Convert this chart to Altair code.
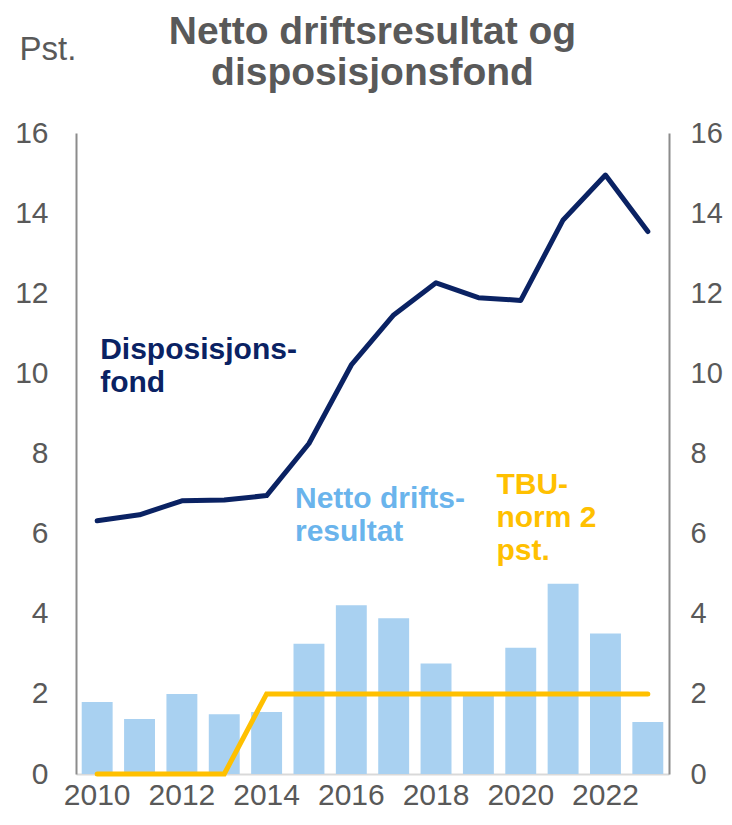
import altair as alt
import pandas as pd

years = list(range(2010, 2024))
netto = [1.80, 1.37, 2.00, 1.49, 1.55, 3.25, 4.21, 3.89, 2.76, 1.99, 3.15, 4.75, 3.51, 1.30]
disp = [6.32, 6.47, 6.82, 6.84, 6.95, 8.25, 10.21, 11.46, 12.26, 11.89, 11.82, 13.83, 14.95, 13.54]
tbu = [0, 0, 0, 0, 2, 2, 2, 2, 2, 2, 2, 2, 2, 2]
x_ticks = [2010, 2012, 2014, 2016, 2018, 2020, 2022]
y_ticks = [0, 2, 4, 6, 8, 10, 12, 14, 16]

ann_text = ["Disposisjons-\nfond", "Netto drifts-\nresultat", "TBU-\nnorm 2\npst."]
ann_year = [2010, 2015, 2019]
ann_y = [10.36, 6.64, 6.99]

df = pd.DataFrame({"year": years, "netto": netto, "disp": disp, "tbu": tbu})

FONT = "Liberation Sans"
GRAY = "#595959"
NAVY = "#0A2263"
LBLUE = "#A9D1F1"
LBLUE_T = "#6AB4EC"
YELLOW = "#FFC000"

xscale = alt.Scale(paddingInner=0.27, paddingOuter=0.135)
yscale = alt.Scale(domain=[0, 16])

x_enc = alt.X(
    "year:O",
    scale=xscale,
    axis=alt.Axis(
        values=x_ticks, labelAngle=0, labelFontSize=30, labelColor=GRAY,
        labelFont=FONT, labelPadding=6, ticks=False, domainColor="#D9D9D9",
        domainWidth=2, title=None, grid=False,
    ),
)

bars = alt.Chart(df).mark_bar(color=LBLUE).encode(
    x=x_enc,
    y=alt.Y(
        "netto:Q", scale=yscale,
        axis=alt.Axis(
            orient="left", values=y_ticks, labelFontSize=30, labelColor=GRAY,
            labelFont=FONT, labelPadding=28, ticks=False, grid=False,
            domainColor="#8C8C8C", domainWidth=2,
            title="Pst.", titleAngle=0, titleX=-57, titleY=-74,
            titleAlign="left", titleBaseline="alphabetic", titleFontSize=33,
            titleFontWeight="normal", titleColor=GRAY, titleFont=FONT,
        ),
    ),
)

tbu_line = alt.Chart(df).mark_line(color=YELLOW, strokeWidth=5, strokeCap="round").encode(
    x=x_enc,
    y=alt.Y(
        "tbu:Q", scale=yscale,
        axis=alt.Axis(
            orient="right", values=y_ticks, labelFontSize=29, labelColor=GRAY,
            labelFont=FONT, labelPadding=21, ticks=False, grid=False,
            domainColor="#8C8C8C", domainWidth=2, title=None,
        ),
    ),
)

disp_line = alt.Chart(df).mark_line(color=NAVY, strokeWidth=5, strokeCap="round", strokeJoin="round").encode(
    x=x_enc,
    y=alt.Y("disp:Q", scale=yscale, axis=None),
)

ann_colors = [NAVY, LBLUE_T, YELLOW]
ann_dx = [3, -14, 18]
texts = []
for t, yr, yv, c, dx in zip(ann_text, ann_year, ann_y, ann_colors, ann_dx):
    d = pd.DataFrame({"year": [yr], "v": [yv], "label": [t]})
    texts.append(
        alt.Chart(d).mark_text(
            lineBreak="\n", align="left", baseline="alphabetic", dx=dx,
            fontSize=30, fontWeight="bold", font=FONT, lineHeight=33, color=c,
        ).encode(
            x=x_enc,
            y=alt.Y("v:Q", scale=yscale, axis=None),
            text="label:N",
        )
    )

chart = alt.layer(bars, tbu_line, disp_line, *texts).resolve_axis(y="independent").properties(
    width=593,
    height=641,
    title=alt.Title(
        ["Netto driftsresultat og", "disposisjonsfond"],
        fontSize=39, font=FONT, fontWeight="bold", color=GRAY,
        lineHeight=41, anchor="middle", offset=-60,
    ),
    autosize=alt.AutoSizeParams(type="none"),
    padding={"left": 68, "top": 125, "right": 55, "bottom": 38},
).configure_view(stroke=None)

chart.save("out.html", embed_options={"renderer": "svg", "actions": False})
